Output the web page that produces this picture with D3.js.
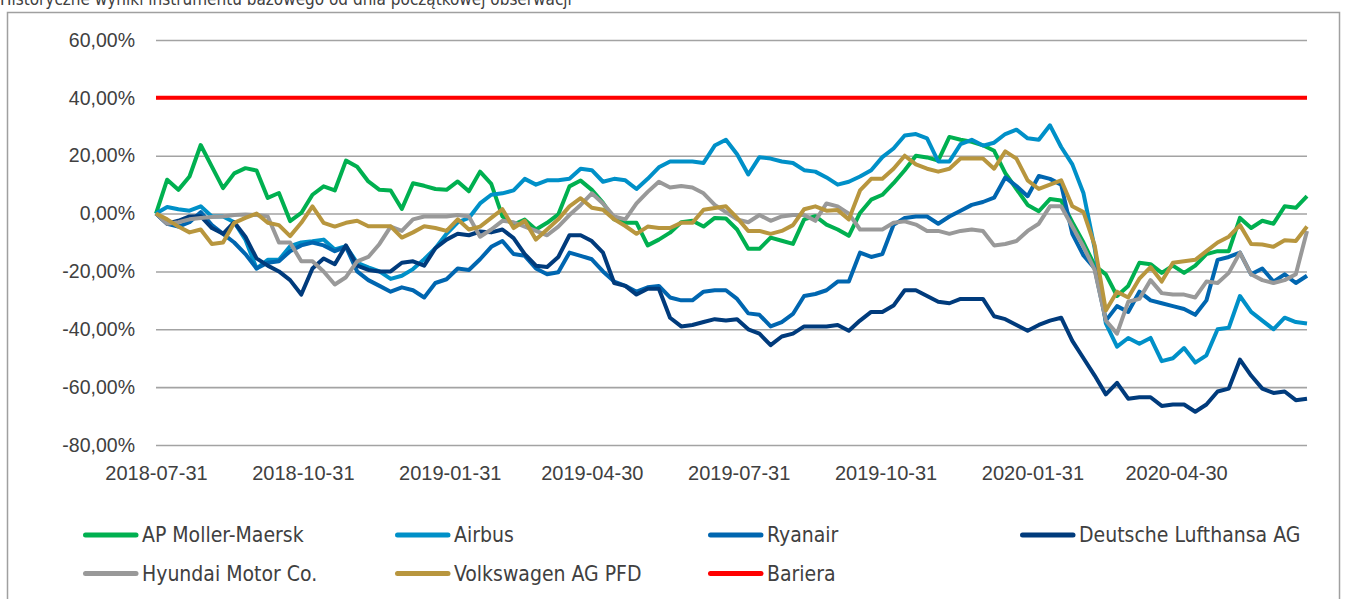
<!DOCTYPE html>
<html>
<head>
<meta charset="utf-8">
<script src="https://cdn.jsdelivr.net/npm/d3@7"></script>
<style>
  body { margin: 0; background: #fff; }
  svg { display: block; font-family: "DejaVu Sans Condensed", "DejaVu Sans", sans-serif; }
</style>
</head>
<body>
<div id="viz"></div>
<script>
const width = 1347;
const height = 599;
const plot = {left: 156, right: 1307, top: 40, bottom: 445};
const textColor = '#404040';
const gridColor = '#a3a3a3';

const title = 'Historyczne wyniki instrumentu bazowego od dnia początkowej obserwacji';

// weekly observations starting 2018-07-31
const startDate = new Date(2018, 6, 31);
const nPoints = 104;

const xTickLabels = ['2018-07-31', '2018-10-31', '2019-01-31', '2019-04-30',
  '2019-07-31', '2019-10-31', '2020-01-31', '2020-04-30'];
const yTicks = [-80, -60, -40, -20, 0, 20, 40, 60];

const seriesNames = ['AP Moller-Maersk', 'Airbus', 'Ryanair', 'Deutsche Lufthansa AG',
  'Hyundai Motor Co.', 'Volkswagen AG PFD', 'Bariera'];
const seriesColors = ['#00b050', '#0090c8', '#0066b0', '#003b7c', '#999999', '#b8963e', '#ff0000'];

// values in %
const maersk = [
  0, 11.7, 8.2, 12.8, 23.7, 16.2, 8.8, 13.9, 15.7, 14.9, 5.4, 7.1, -2.6, 0.2, 6.5, 9.4, 8.0, 18.3, 16.2, 11.1, 8.2, 8.0, 1.6, 10.5, 9.6, 8.5,
  8.2, 11.1, 7.7, 14.5, 10.3, -1, -3.8, -2.1, -5.5, -3.2, -0.3, 9.4, 11.4, 8.2, 3.7, -2, -3.2, -3.2, -11, -9, -6.6, -3, -2.5, -4.5, -1.5, -1.7,
  -5.5, -12.2, -12.2, -8.3, -9.4, -10.5, -2, -0.9, -3.8, -5.5, -7.7, 0.2, 4.8, 6.5, 10.5, 15, 20, 19.4, 18.3, 26.5, 25.5, 24.8, 23.6, 21.7, 14, 8.5,
  3, 0.8, 5, 4.5, -3, -10, -18, -21, -28.5, -25, -17, -17.5, -20.5, -18, -20.5, -18, -14, -13, -13, -1.5, -5, -2.5, -3.5, 2.5, 2, 6
];
const airbus = [
  0, 2.3, 1.5, 1, 2.5, -1, -1, -3, -9, -19, -16, -16, -11.3, -10, -9.6, -9, -12.4, -11.3, -17, -18.6, -20, -22.6, -21.5, -19.2, -15.8, -12,
  -7, -3, -1.5, 3.5, 6.5, 7, 8, 12, 10, 11.5, 11.5, 12, 15.5, 15, 11, 12, 11.5, 8.5, 12, 16, 18, 18, 18, 17.5, 23.5, 25.5,
  20.5, 13.5, 19.5, 19, 18, 17.5, 15, 14.5, 12.5, 10, 11, 12.8, 15, 19.5, 22.5, 27, 27.5, 26, 18, 18, 24, 25.5, 23.5, 24.5, 27.5, 29,
  26, 25.5, 30.5, 23, 17, 7, -12, -38, -46, -43, -45, -43, -51, -50, -46.5, -51.5, -49, -40, -39.5, -28.5, -34, -37, -40, -36, -37.5, -38
];
const ryanair = [
  0, -3.5, -4.5, -3, 0.5, -4, -7, -10, -14, -19, -17, -16.5, -13, -11, -10, -11, -13, -11.5, -20, -23, -25, -27, -25.5, -26.5, -29, -24,
  -22.7, -19, -19.5, -15.8, -11.5, -9.5, -14, -14.6, -19, -21, -20.3, -13.5, -14.6, -15.8, -20, -23.5, -25, -27, -25.5, -25, -29, -30, -30, -27, -26.5, -26.5,
  -29.5, -34.5, -35, -39, -37.5, -34.7, -28.5, -27.8, -26.5, -23.5, -23.5, -13.5, -15, -14, -3.9, -1.5, -1, -1, -3.5, -1, 1, 3, 4, 5.5, 12.5, 9.5,
  6, 13, 12, 10, -7, -14.5, -19, -37, -32, -34, -27, -30, -31, -32, -33, -35, -30, -16, -15, -13.5, -21, -19, -23.5, -21, -24, -21.5
];
const lufthansa = [
  0, -3.5, -2.5, -1, -0.9, -5, -7, -3, -8, -15.5, -18, -20, -23, -28, -19, -15.5, -17.5, -11, -18, -19.5, -20, -20, -17, -16.5, -18, -12,
  -9, -7, -7.5, -6.2, -6.5, -5.5, -8.5, -14, -18, -18.5, -15, -7.5, -7.5, -9.5, -13.5, -24, -25, -28, -26, -26, -36, -39, -38.5, -37.5, -36.5, -37,
  -36.5, -40, -41.5, -45.5, -42.5, -41.5, -39, -39, -39, -38.5, -40.5, -37, -34, -34, -31.8, -26.5, -26.5, -28.5, -30.5, -31, -29.5, -29.5, -29.5, -35.5, -36.5, -38.5,
  -40.5, -38.5, -37, -36, -44, -50, -56, -62.5, -58.5, -64, -63.5, -63.5, -66.5, -66, -66, -68.5, -66, -61.5, -60.5, -50.5, -56, -60.5, -62, -61.5, -64.5, -64
];
const hyundai = [
  0, -3.5, -3, -2, -1.5, -1.2, -1, -0.5, -0.3, -0.5, -1, -10, -10, -16.5, -16.5, -20, -24.5, -22, -16.5, -15, -10.5, -4.5, -6, -2, -1, -1,
  -1, -0.5, -1, -8, -5.5, -2.5, -3, -4.5, -6, -7.5, -4.5, -0.5, 3, 7, 3.5, -1, -2, 3.5, 7.5, 11, 9, 9.5, 9, 7, 3, 0.5,
  -2, -3, -0.5, -2.5, -1, -0.5, -0.5, -2.5, 3.5, 2.5, 0, -5.5, -5.5, -5.5, -3.2, -2.7, -3.8, -6, -6, -7, -6, -5.5, -6, -11, -10.5, -9.5,
  -6, -3.5, 2.5, 2.5, -4.5, -11.5, -19.5, -37, -41.5, -30.5, -29.5, -23, -27.5, -28, -28, -29, -23.5, -24, -20.5, -13.5, -21, -23, -24, -23, -21, -6
];
const volkswagen = [
  0, -2, -4.5, -6.5, -5.5, -10.5, -10, -3.2, -1.5, 0, -3.2, -4, -7.8, -3.2, 2.5, -3.2, -4.5, -3.2, -2.5, -4.4, -4.4, -4.4, -8.3, -6.5, -4.4, -5,
  -6, -2, -5.5, -4.5, -1.5, 1.5, -5, -2.5, -9, -5.5, -2, 2.5, 5.3, 2, 1.3, -2, -4.3, -7, -4.5, -5, -5, -3.2, -3.2, 1.3, 1.9, 2.5,
  -1.5, -6, -6, -7, -6, -4, 1.5, 2.5, 1, 1.2, -2, 8, 12, 12, 15.5, 20, 17, 15.5, 14.5, 15.5, 19, 19, 19, 15.5, 21.5, 19,
  11.5, 8.5, 10, 11.5, 2.5, 0.5, -11, -33.5, -27, -29, -22.5, -18.5, -23.5, -17, -16.5, -16, -13, -10, -8, -4, -10.5, -10.7, -11.5, -9.2, -9.5, -4.5
];
const barrierLevel = 40;

const dates = d3.range(nPoints).map(i => d3.timeDay.offset(startDate, 7 * i));
const barrier = dates.map(() => barrierLevel);
const allSeries = [maersk, airbus, ryanair, lufthansa, hyundai, volkswagen, barrier];

const plLocale = d3.formatLocale({decimal: ',', thousands: ' ', grouping: [3], currency: ['', ' zł'], minus: '-'});
const pctFormat = v => plLocale.format('.2f')(v) + '%';
const parseDay = d3.timeParse('%Y-%m-%d');

const svg = d3.select('#viz')
  .append('svg')
    .attr('width', width)
    .attr('height', height);

// frame + title (title sits half above the page edge, as in the source)
svg.append('rect')
  .attr('x', 7.5).attr('y', 12.5)
  .attr('width', 1332).attr('height', 620)
  .attr('fill', 'none')
  .attr('stroke', '#a0a0a0')
  .attr('stroke-width', 1.5);

svg.append('text')
  .attr('x', 0).attr('y', 5)
  .attr('fill', textColor)
  .style('font-size', '17px')
  .text(title);

// scales
const xScale = d3.scaleTime()
  .domain([dates[0], dates[dates.length - 1]])
  .range([plot.left, plot.right]);
const yScale = d3.scaleLinear()
  .domain([-80, 60])
  .range([plot.bottom, plot.top]);

// y axis with gridlines
const yAxisGroup = svg.append('g')
  .attr('class', 'y-axis-group')
  .attr('transform', `translate(${plot.left},0)`)
  .call(d3.axisLeft(yScale)
    .tickValues(yTicks)
    .tickSize(-(plot.right - plot.left))
    .tickPadding(21)
    .tickFormat(pctFormat));
yAxisGroup.select('.domain').remove();
yAxisGroup.selectAll('line').attr('stroke', gridColor).attr('stroke-width', 1.6);
yAxisGroup.selectAll('text')
  .attr('fill', textColor)
  .style('font-size', '19.5px');

// x axis
const xAxisGroup = svg.append('g')
  .attr('class', 'x-axis-group')
  .attr('transform', `translate(0,${plot.bottom})`)
  .call(d3.axisBottom(xScale)
    .tickValues(xTickLabels.map(parseDay))
    .tickSize(0)
    .tickPadding(21)
    .tickFormat(d3.timeFormat('%Y-%m-%d')));
xAxisGroup.select('.domain').remove();
xAxisGroup.selectAll('text')
  .attr('fill', textColor)
  .style('font-size', '20px');

// lines
const line = d3.line()
  .x((d, i) => xScale(dates[i]))
  .y(d => yScale(d));

svg.append('g')
  .attr('class', 'lines-group')
  .selectAll('path')
  .data(allSeries)
  .join('path')
    .attr('d', d => line(d))
    .attr('fill', 'none')
    .attr('stroke', (d, i) => seriesColors[i])
    .attr('stroke-width', 4)
    .attr('stroke-linejoin', 'round');

// legend
const legendCols = [83, 395, 708, 1020];
const legendRows = [535, 573.5];
const legend = svg.append('g')
  .attr('class', 'legend')
  .selectAll('g')
  .data(seriesNames)
  .join('g')
    .attr('transform', (d, i) => `translate(${legendCols[i % 4]},${legendRows[Math.floor(i / 4)]})`);
legend.append('line')
  .attr('x1', 2.5).attr('x2', 53)
  .attr('stroke', (d, i) => seriesColors[i])
  .attr('stroke-width', 5)
  .attr('stroke-linecap', 'round');
legend.append('text')
  .attr('x', 59)
  .attr('dy', '0.35em')
  .attr('fill', textColor)
  .style('font-size', '21px')
  .text(d => d);
</script>
</body>
</html>
